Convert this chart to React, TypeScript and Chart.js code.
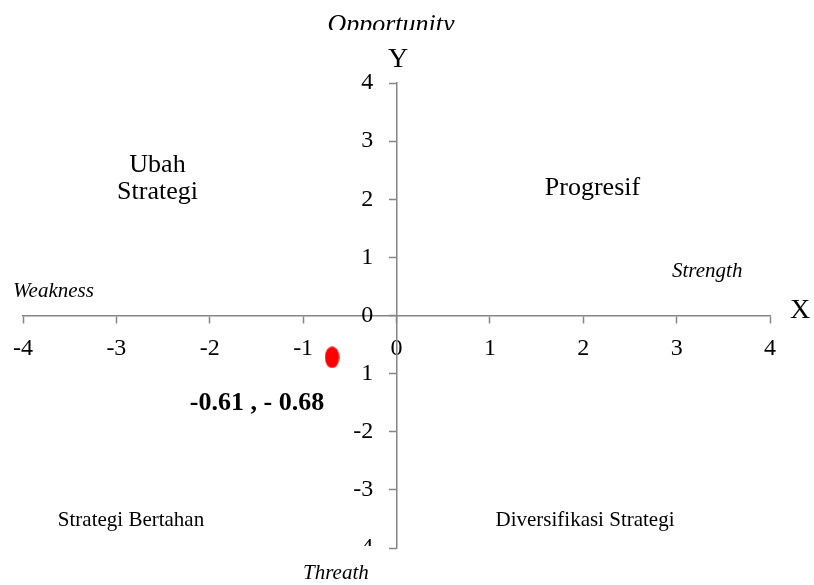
import React, { useEffect, useRef } from 'react';
import { Chart, registerables } from 'chart.js';

Chart.register(...registerables);

// ---- data ----
const axisMin = -4;
const axisMax = 4;
const axisStep = 1;
const pointX = [-0.69];
const pointY = [-0.72];
const pointLabel = '-0.61 , - 0.68';
// y tick label overrides as printed in the reference
const yTickOverride: Record<string, string> = { '-1': '1' };

const quadrantTexts = ['Ubah', 'Strategi', 'Progresif', 'Strategi Bertahan', 'Diversifikasi Strategi'];
const directionTexts = ['Opportunity', 'Weakness', 'Strength', 'Threath'];
const axisTitles = ['X', 'Y'];

const SERIF = "'Liberation Serif', 'Times New Roman', serif";
const AXIS_GRAY = '#868686';

function makeEllipse(): HTMLCanvasElement {
  const c = document.createElement('canvas');
  c.width = 15;
  c.height = 22;
  const ctx = c.getContext('2d')!;
  ctx.fillStyle = '#ff0000';
  ctx.beginPath();
  ctx.ellipse(7.5, 11, 7.2, 10.8, 0, 0, Math.PI * 2);
  ctx.fill();
  return c;
}

const textPlugin = {
  id: 'swotTexts',
  afterDraw(chart: any) {
    const ctx: CanvasRenderingContext2D = chart.ctx;
    ctx.save();
    ctx.fillStyle = '#000';
    ctx.textBaseline = 'alphabetic';

    // Opportunity (clipped at bottom as in the reference)
    ctx.save();
    ctx.beginPath();
    ctx.rect(0, 0, chart.width, 30);
    ctx.clip();
    ctx.font = `italic 26px ${SERIF}`;
    ctx.textAlign = 'center';
    ctx.fillText(directionTexts[0], 391, 32);
    ctx.restore();

    // axis titles
    ctx.font = `28px ${SERIF}`;
    ctx.textAlign = 'center';
    ctx.fillText(axisTitles[1], 398, 67);
    ctx.fillText(axisTitles[0], 800, 318);

    // quadrant labels
    ctx.font = `26px ${SERIF}`;
    ctx.fillText(quadrantTexts[0], 157.5, 172);
    ctx.fillText(quadrantTexts[1], 157.5, 199);
    ctx.fillText(quadrantTexts[2], 592.5, 195);
    ctx.font = `21px ${SERIF}`;
    ctx.fillText(quadrantTexts[3], 131, 526);
    ctx.fillText(quadrantTexts[4], 585, 526);

    // direction labels
    ctx.font = `italic 21px ${SERIF}`;
    ctx.textAlign = 'left';
    ctx.fillText(directionTexts[1], 13, 297);
    ctx.fillText(directionTexts[2], 672, 277);

    // white box under the bottom tick label (covers it as in reference)
    ctx.fillStyle = '#fff';
    ctx.fillRect(330, 546, 56, 40);
    ctx.fillStyle = '#000';
    ctx.fillText(directionTexts[3], 303, 579);

    // data label
    ctx.font = `bold 26px ${SERIF}`;
    ctx.textAlign = 'center';
    ctx.fillText(pointLabel, 257, 410);

    ctx.restore();
  },
};

export default function App() {
  const ref = useRef<HTMLCanvasElement | null>(null);

  useEffect(() => {
    if (!ref.current) return;
    const pointImg = makeEllipse();
    const tickFont = { family: SERIF, size: 24 };
    const chart = new Chart(ref.current, {
      type: 'scatter',
      data: {
        datasets: [
          {
            data: pointX.map((x, i) => ({ x, y: pointY[i] })),
            pointStyle: pointImg as any,
            backgroundColor: '#ff0000',
            borderColor: '#ff0000',
          },
        ],
      },
      options: {
        responsive: false,
        animation: false,
        layout: { padding: { left: 23, right: 44, top: 83, bottom: 37 } },
        plugins: { legend: { display: false }, tooltip: { enabled: false } },
        scales: {
          x: {
            type: 'linear',
            min: axisMin,
            max: axisMax,
            position: { y: 0 } as any,
            border: { display: true, color: AXIS_GRAY, width: 1.5 },
            grid: {
              drawOnChartArea: false,
              drawTicks: true,
              tickLength: 7,
              color: AXIS_GRAY,
              tickWidth: 1.5,
            },
            ticks: {
              stepSize: axisStep,
              padding: 12,
              color: '#000',
              font: tickFont,
              maxRotation: 0,
              autoSkip: false,
              callback: (v: any) => String(v),
            },
          },
          y: {
            type: 'linear',
            min: axisMin,
            max: axisMax,
            position: { x: 0 } as any,
            border: { display: true, color: AXIS_GRAY, width: 1.5 },
            grid: {
              drawOnChartArea: false,
              drawTicks: true,
              tickLength: 7,
              color: AXIS_GRAY,
              tickWidth: 1.5,
            },
            ticks: { display: false, stepSize: axisStep },
          },
          yLabels: {
            type: 'linear',
            axis: 'y',
            min: axisMin,
            max: axisMax,
            position: { x: -0.25 } as any,
            border: { display: false },
            grid: { display: false },
            ticks: {
              stepSize: axisStep,
              color: '#000',
              font: tickFont,
              autoSkip: false,
              callback: (v: any) => yTickOverride[String(v)] ?? String(v),
            },
          } as any,
        },
      },
      plugins: [textPlugin],
    });
    return () => chart.destroy();
  }, []);

  return (
    <div style={{ position: 'absolute', left: 0, top: 0, width: 814, height: 585, background: '#fff' }}>
      <canvas ref={ref} width={814} height={585} />
    </div>
  );
}
